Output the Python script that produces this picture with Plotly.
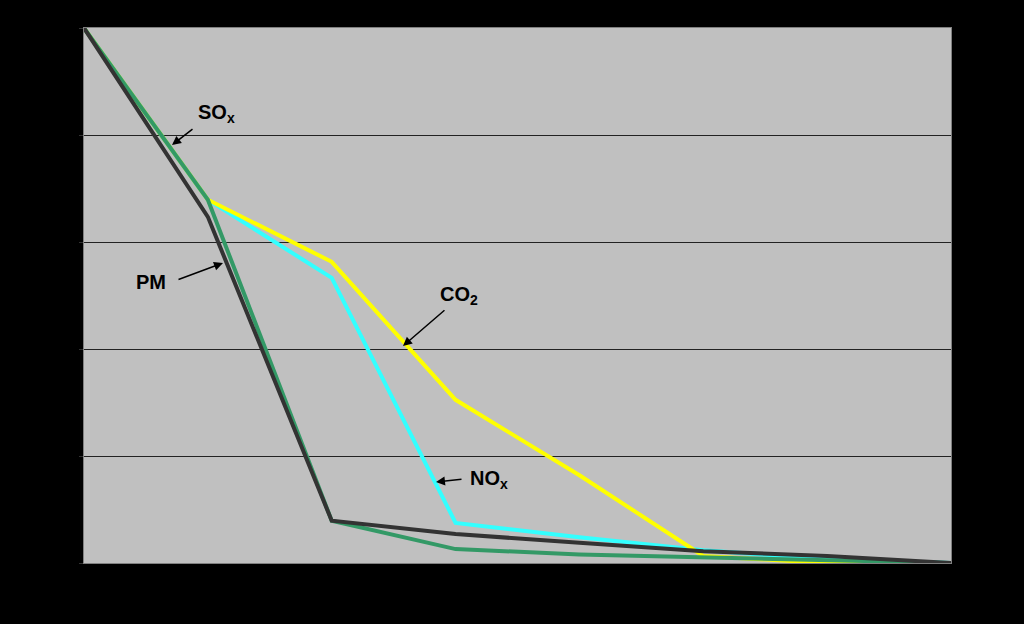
import plotly.graph_objects as go

x_steps = [0, 1, 2, 3, 4, 5, 6, 7]

sox = [100, 67.9, 7.9, 2.6, 1.6, 1.1, 0.6, 0]
pm = [100, 64.7, 7.9, 5.4, 3.8, 2.2, 1.3, 0]
co2 = [100, 67.9, 56.3, 30.5, 16.4, 1.3, 0, 0]
nox = [100, 67.9, 53.3, 7.5, 4.8, 2.4, 0.7, 0]

fig = go.Figure()
fig.add_trace(go.Scatter(x=x_steps, y=nox, mode="lines", name="NOx",
                         line=dict(color="#33ffff", width=4)))
fig.add_trace(go.Scatter(x=x_steps, y=co2, mode="lines", name="CO2",
                         line=dict(color="#ffff00", width=4)))
fig.add_trace(go.Scatter(x=x_steps, y=sox, mode="lines", name="SOx",
                         line=dict(color="#339966", width=4)))
fig.add_trace(go.Scatter(x=x_steps, y=pm, mode="lines", name="PM",
                         line=dict(color="#333333", width=4)))

# label positions (data units)
def px2x(px):
    return (px - 84) / 123.86

def py2y(py):
    return (563 - py) / 5.35

labels = [
    ("<b>SO<sub>x</sub></b>", 216, 113, 194, 128, 172, 145),
    ("<b>PM</b>", 151, 282, 177, 280, 223, 263),
    ("<b>CO<sub>2</sub></b>", 459, 295, 446, 309, 403, 346),
    ("<b>NO<sub>x</sub></b>", 489, 479, 463, 479, 436, 482),
]
anns = []
for text, tx, ty, ax, ay, hx, hy in labels:
    anns.append(dict(x=px2x(tx), y=py2y(ty), xref="x", yref="y", text=text,
                     showarrow=False,
                     font=dict(family="Liberation Sans, Arial", size=20, color="black"),
                     xanchor="center", yanchor="middle"))
    anns.append(dict(x=px2x(hx), y=py2y(hy), xref="x", yref="y",
                     ax=px2x(ax), ay=py2y(ay), axref="x", ayref="y",
                     text="", showarrow=True, arrowhead=2, arrowsize=1.2,
                     arrowwidth=1.5, arrowcolor="black", standoff=0, startstandoff=0))

fig.update_layout(
    width=1024, height=624,
    margin=dict(l=84, r=73, t=28, b=61),
    paper_bgcolor="black",
    plot_bgcolor="#c0c0c0",
    showlegend=False,
    annotations=anns,
    xaxis=dict(range=[0, 7], showgrid=False, zeroline=False, showticklabels=False,
               showline=True, linecolor="#808080", linewidth=1, mirror=True,
               ticks=""),
    yaxis=dict(range=[0, 100], dtick=20, showgrid=True, gridcolor="#222222",
               gridwidth=1, zeroline=False, showticklabels=False,
               showline=True, linecolor="#808080", linewidth=1, mirror=True,
               ticks="outside", ticklen=4, tickcolor="#333333"),
)

fig.write_html("out.html")
